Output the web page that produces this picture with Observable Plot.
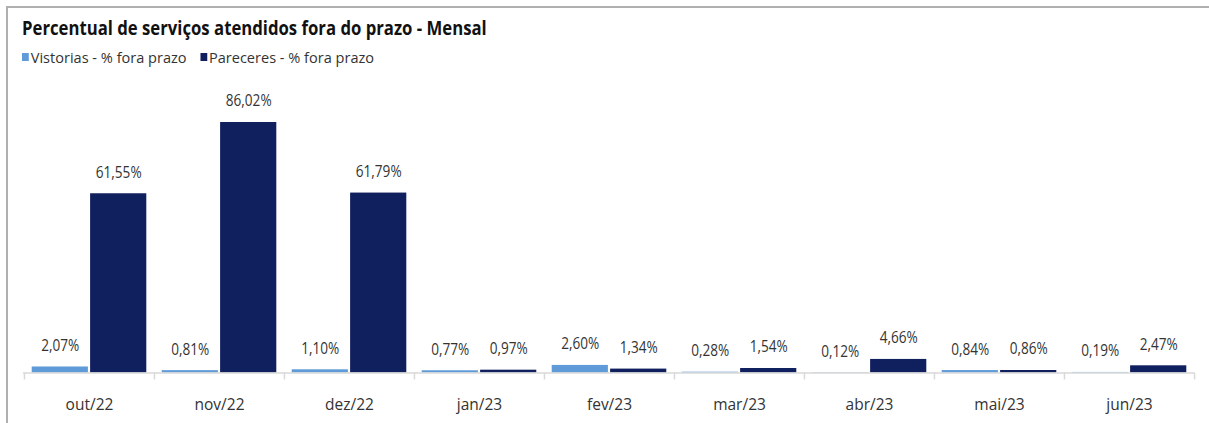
<!DOCTYPE html>
<html>
<head>
<meta charset="utf-8">
<script src="https://cdn.jsdelivr.net/npm/d3@7"></script>
<script src="https://cdn.jsdelivr.net/npm/@observablehq/plot@0.6"></script>
<style>
  html, body { margin: 0; padding: 0; background: #fff; }
  body { width: 1209px; height: 423px; overflow: hidden; position: relative;
         font-family: "Open Sans", "Noto Sans", sans-serif; color: #333; }
  #frame { position: absolute; left: 6px; top: 6px; width: 1260px; height: 460px;
           border-top: 2px solid #b0b0b0; border-left: 2px solid #b0b0b0; box-sizing: border-box; }
  #header { position: relative; height: 75px; }
  #title { position: absolute; left: 22px; top: 16px; font-size: 19px; line-height: 24px; font-weight: bold; white-space: nowrap;
           transform-origin: left center; transform: scaleX(0.88); color: #111; }
  #legend { position: absolute; left: 22px; top: 47px; font-size: 15px; line-height: 20px; white-space: nowrap; display: flex; align-items: center;
            transform-origin: left center; transform: scaleX(0.97); }
  .sw { display: inline-block; width: 7px; height: 8px; margin-right: 2px; }
  .item { display: inline-flex; align-items: center; margin-right: 14px; color: #333; }
  #chart { position: absolute; left: 0; top: 75px; }
</style>
</head>
<body>
<div id="frame"></div>
<div id="header">
  <div id="title">Percentual de serviços atendidos fora do prazo - Mensal</div>
  <div id="legend"></div>
</div>
<div id="chart"></div>
<script>
const months = ["out/22","nov/22","dez/22","jan/23","fev/23","mar/23","abr/23","mai/23","jun/23"];
const vistorias = [2.07, 0.81, 1.10, 0.77, 2.60, 0.28, 0.12, 0.84, 0.19];
const pareceres = [61.55, 86.02, 61.79, 0.97, 1.34, 1.54, 4.66, 0.86, 2.47];
const seriesNames = ["Vistorias - % fora prazo", "Pareceres - % fora prazo"];
const seriesColors = ["#5f9bd8", "#101f5e"];

const W = 1209, H = 348, mL = 23, mR = 15, mB = 50.5, mT = 6.3;
const step = (W - mL - mR) / months.length;
const edge = 7.7, barW = 56.3;

const rowsV = months.map((m, i) => ({month: m, value: vistorias[i]}));
const rowsP = months.map((m, i) => ({month: m, value: pareceres[i]}));
const fmt = v => v.toFixed(2).replace(".", ",") + "%";
const font = '"Open Sans", "Noto Sans", sans-serif';

// legend
const lg = document.getElementById("legend");
seriesNames.forEach((s, i) => {
  const it = document.createElement("span"); it.className = "item";
  const sw = document.createElement("span"); sw.className = "sw"; sw.style.background = seriesColors[i];
  it.appendChild(sw); it.appendChild(document.createTextNode(s)); lg.appendChild(it);
});

const offV = -step / 2 + edge + barW / 2;
const offP = step / 2 - edge - barW / 2;

const chart = Plot.plot({
  width: W, height: H,
  marginLeft: mL, marginRight: mR, marginTop: mT, marginBottom: mB,
  style: {fontFamily: font, fontSize: "16.5px", color: "#333", background: "transparent", overflow: "visible"},
  x: {domain: months, padding: 0, label: null, tickSize: 0, tickPadding: 25.5},
  y: {domain: [0, 100], axis: null},
  marks: [
    Plot.barY(rowsV, {x: "month", y: "value", fill: seriesColors[0], insetLeft: edge, insetRight: step - edge - barW}),
    Plot.barY(rowsP, {x: "month", y: "value", fill: seriesColors[1], insetLeft: step - edge - barW, insetRight: edge}),
    Plot.ruleY([0], {stroke: "#d9d9d9", strokeWidth: 1.5}),
    Plot.ruleX(months, {x: d => d, y1: 0, y2: 0, dx: -step / 2, insetBottom: -7, stroke: "#d9d9d9", strokeWidth: 1.5}),
    Plot.ruleX(months.slice(-1), {x: d => d, y1: 0, y2: 0, dx: step / 2, insetBottom: -7, stroke: "#d9d9d9", strokeWidth: 1.5}),
    Plot.text(rowsV, {x: "month", y: "value", text: d => fmt(d.value), dx: offV, dy: -21.5, fill: "#333", fontSize: 17, lineAnchor: "middle"}),
    Plot.text(rowsP, {x: "month", y: "value", text: d => fmt(d.value), dx: offP, dy: -21.5, fill: "#333", fontSize: 17, lineAnchor: "middle"})
  ]
});
document.getElementById("chart").appendChild(chart);

// condense text horizontally (narrow face look)
const squeeze = (sel, sx) => d3.select(chart).selectAll(sel).each(function () {
  const t = this.getAttribute("transform") || "";
  this.setAttribute("transform", t + ` scale(${sx},1)`);
});
squeeze("g[aria-label='text'] text", 0.8);
squeeze("g[aria-label='x-axis tick label'] text", 0.94);
</script>
</body>
</html>
